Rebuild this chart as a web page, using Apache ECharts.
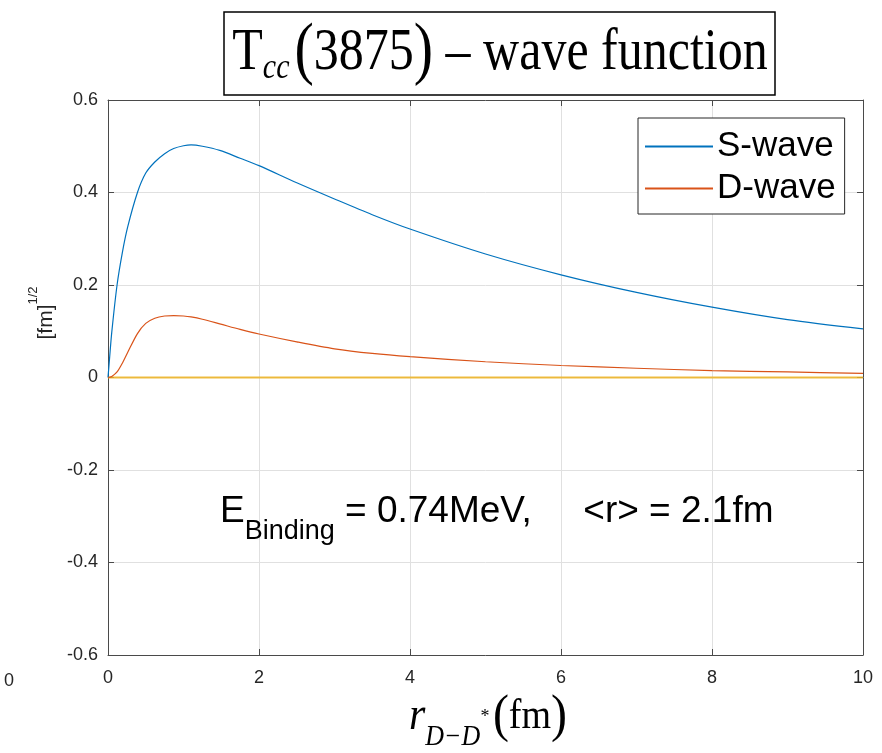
<!DOCTYPE html>
<html>
<head>
<meta charset="utf-8">
<script src="https://cdn.jsdelivr.net/npm/echarts@6/dist/echarts.min.js"></script>
<style>
html,body{margin:0;padding:0;background:#fff;}
#chart{width:882px;height:753px;}
</style>
</head>
<body>
<div id="chart"></div>
<script>
// ---- data ----
const rValues = [0, 0.02, 0.05, 0.12, 0.19, 0.26, 0.39, 0.5, 0.62, 0.75, 0.87, 1.0, 1.1, 1.25, 1.48, 1.75, 2, 2.5, 3, 3.5, 4, 5, 6, 7, 8, 9, 10];
const sWave = [0, 0.04, 0.098, 0.20, 0.27, 0.325, 0.40, 0.442, 0.466, 0.484, 0.495, 0.501, 0.503, 0.500, 0.491, 0.474, 0.458, 0.421, 0.386, 0.352, 0.321, 0.267, 0.222, 0.184, 0.152, 0.125, 0.105];
const dWave = [0, 0.0005, 0.002, 0.012, 0.031, 0.054, 0.095, 0.117, 0.128, 0.133, 0.134, 0.133, 0.131, 0.126, 0.116, 0.104, 0.094, 0.077, 0.062, 0.052, 0.045, 0.034, 0.026, 0.020, 0.015, 0.012, 0.009];
const zeroWave = [0, 0, 0, 0, 0, 0, 0, 0, 0, 0, 0, 0, 0, 0, 0, 0, 0, 0, 0, 0, 0, 0, 0, 0, 0, 0, 0];
const seriesNames = ['S-wave', 'D-wave'];
const xTicks = [0, 2, 4, 6, 8, 10];
const yTicks = [-0.6, -0.4, -0.2, 0, 0.2, 0.4, 0.6];

const pair = (ys) => rValues.map((r, i) => [r, ys[i]]);

const chart = echarts.init(document.getElementById('chart'));
const axisCol = '#4a4a4a';
const txtCol = '#262626';
const sans = 'Liberation Sans, Arial, sans-serif';
const serif = 'Liberation Serif, Times New Roman, serif';

const commonX = {
  type: 'value', min: 0, max: 10, interval: 2,
  axisLine: {show: true, onZero: false, lineStyle: {color: axisCol, width: 1}},
  axisTick: {show: true, inside: true, length: 6, lineStyle: {color: axisCol}},
  splitLine: {show: false}
};
const commonY = {
  type: 'value', min: -0.6, max: 0.6, interval: 0.2,
  axisLine: {show: true, onZero: false, lineStyle: {color: axisCol, width: 1}},
  axisTick: {show: true, inside: true, length: 6, lineStyle: {color: axisCol}},
  splitLine: {show: false}
};

chart.setOption({
  animation: false,
  backgroundColor: '#fff',
  grid: {left: 108, right: 19, top: 100, bottom: 98, containLabel: false},
  xAxis: [
    Object.assign({}, commonX, {
      position: 'bottom',
      splitLine: {show: true, lineStyle: {color: '#e0e0e0', width: 1}},
      axisLabel: {show: true, color: txtCol, fontFamily: sans, fontSize: 18, margin: 14,
        formatter: (v) => (xTicks.indexOf(v) >= 0 ? String(v) : '')}
    }),
    Object.assign({}, commonX, {position: 'top', axisLabel: {show: false}})
  ],
  yAxis: [
    Object.assign({}, commonY, {
      position: 'left',
      splitLine: {show: true, lineStyle: {color: '#e0e0e0', width: 1}},
      axisLabel: {show: true, color: txtCol, fontFamily: sans, fontSize: 18, margin: 10,
        formatter: (v) => {
          const t = yTicks.find(t => Math.abs(t - v) < 1e-9);
          if (t === undefined) return '';
          return Math.abs(t) < 1e-9 ? '0' : String(t);
        }}
    }),
    Object.assign({}, commonY, {position: 'right', axisLabel: {show: false}})
  ],
  legend: {
    data: seriesNames,
    orient: 'vertical',
    left: 638, top: 118,
    backgroundColor: '#fff',
    borderColor: '#262626', borderWidth: 1,
    padding: [11, 9, 8, 7],
    itemGap: 7,
    itemWidth: 68, itemHeight: 2,
    icon: 'rect',
    textStyle: {fontFamily: sans, fontSize: 35, color: '#000', padding: [0, 0, 0, -1]}
  },
  series: [
    {name: seriesNames[0], type: 'line', data: pair(sWave), showSymbol: false, symbol: 'none',
     smooth: 0.3, lineStyle: {color: '#0072BD', width: 1.2}, itemStyle: {color: '#0072BD'}, z: 3},
    {name: seriesNames[1], type: 'line', data: pair(dWave), showSymbol: false, symbol: 'none',
     smooth: 0.3, lineStyle: {color: '#D95319', width: 1.2}, itemStyle: {color: '#D95319'}, z: 3},
    {name: 'zero', type: 'line', data: pair(zeroWave), showSymbol: false, symbol: 'none',
     lineStyle: {color: '#EDB120', width: 2, opacity: 0.85}, itemStyle: {color: '#EDB120'}, z: 2}
  ],
  graphic: [
    // title box
    {type: 'rect', shape: {x: 224, y: 12, width: 551, height: 83},
     style: {fill: '#fff', stroke: '#000', lineWidth: 1.5}, z: 10},
    {type: 'text', x: 500, y: 53, scaleY: 1.2, z: 11,
     style: {
       text: '{T|T}{sub|cc}{sp| }{p|(}{n|3875}{p|)}{n| – wave function}',
       align: 'center', verticalAlign: 'middle', fill: '#000',
       rich: {
         T: {fontFamily: serif, fontSize: 50, verticalAlign: 'middle', lineHeight: 64},
         sub: {fontFamily: serif, fontSize: 30, fontStyle: 'italic', verticalAlign: 'bottom', lineHeight: 64, padding: [0, 0, 4, 0]},
         sp: {fontFamily: serif, fontSize: 20, lineHeight: 64},
         p: {fontFamily: serif, fontSize: 58, verticalAlign: 'middle', lineHeight: 64},
         n: {fontFamily: serif, fontSize: 50, verticalAlign: 'middle', lineHeight: 64}
       }
     }},
    // y axis name
    {type: 'text', x: 42, y: 313, rotation: Math.PI / 2, z: 11,
     style: {
       text: '{b|[fm]}{s|1/2}',
       align: 'center', verticalAlign: 'middle', fill: txtCol,
       rich: {
         b: {fontFamily: sans, fontSize: 21, verticalAlign: 'bottom', lineHeight: 30},
         s: {fontFamily: sans, fontSize: 13, verticalAlign: 'top', lineHeight: 30}
       }
     }},
    // x axis name
    {type: 'text', x: 488, y: 717, scaleY: 1.1, z: 11,
     style: {
       text: '{r|r}{sub|D−D}{st|*}{sp| }{p|(}{n|fm}{p|)}',
       align: 'center', verticalAlign: 'middle', fill: '#000',
       rich: {
         r: {fontFamily: serif, fontSize: 42, fontStyle: 'italic', verticalAlign: 'middle', lineHeight: 56},
         sub: {fontFamily: serif, fontSize: 26, fontStyle: 'italic', verticalAlign: 'bottom', lineHeight: 56, padding: [0, 0, -4, 0]},
         st: {fontFamily: serif, fontSize: 18, verticalAlign: 'middle', lineHeight: 56},
         sp: {fontFamily: serif, fontSize: 14, lineHeight: 56},
         p: {fontFamily: serif, fontSize: 48, verticalAlign: 'middle', lineHeight: 56},
         n: {fontFamily: serif, fontSize: 38, verticalAlign: 'middle', lineHeight: 56}
       }
     }},
    // annotation
    {type: 'text', x: 220, y: 512, z: 11,
     style: {
       text: '{E|E}{sub|Binding}{E| = 0.74MeV,     <r> = 2.1fm}',
       align: 'left', verticalAlign: 'middle', fill: '#000',
       rich: {
         E: {fontFamily: sans, fontSize: 37, verticalAlign: 'middle', lineHeight: 50},
         sub: {fontFamily: sans, fontSize: 27, verticalAlign: 'bottom', lineHeight: 50, padding: [0, 0, -8, 0]}
       }
     }},
    // stray tick label at bottom-left
    {type: 'text', x: 4, y: 681, z: 11,
     style: {text: '0', fontFamily: sans, fontSize: 18, fill: txtCol, align: 'left', verticalAlign: 'middle'}}
  ]
});
</script>
</body>
</html>
